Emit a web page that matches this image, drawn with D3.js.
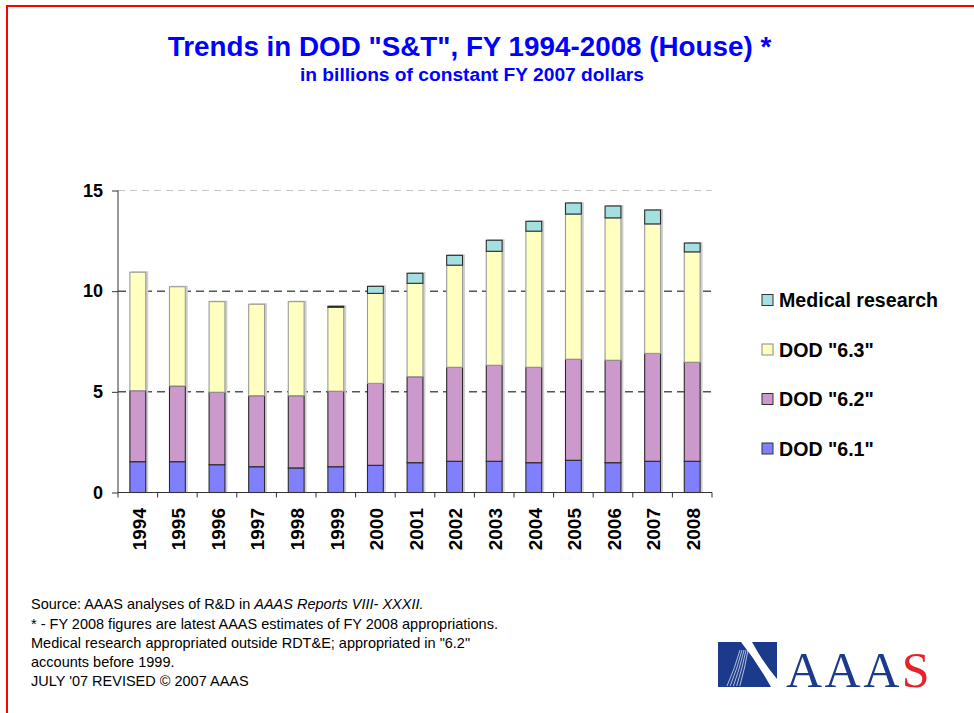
<!DOCTYPE html>
<html>
<head>
<meta charset="utf-8">
<script src="https://cdn.jsdelivr.net/npm/d3@7"></script>
<style>
  html, body { margin: 0; padding: 0; background: #fff; }
  svg { display: block; font-family: "Liberation Sans", Arial, sans-serif; }
</style>
</head>
<body>
<svg id="chart" width="974" height="713"></svg>
<script>
// ---- data ----
const years = ["1994","1995","1996","1997","1998","1999","2000","2001","2002","2003","2004","2005","2006","2007","2008"];
const dod61 = [1.53,1.53,1.38,1.28,1.22,1.28,1.35,1.48,1.55,1.55,1.48,1.60,1.48,1.55,1.55];
const dod62 = [3.53,3.76,3.60,3.53,3.59,3.75,4.07,4.27,4.67,4.77,4.74,5.02,5.09,5.36,4.92];
const dod63 = [5.88,4.93,4.50,4.54,4.67,4.17,4.47,4.64,5.07,5.66,6.76,7.21,7.07,6.43,5.48];
const medical = [0,0,0,0,0,0.05,0.35,0.50,0.49,0.55,0.49,0.55,0.59,0.69,0.44];
const seriesKeys = ["dod61","dod62","dod63","medical"];
const seriesLabels = ['DOD "6.1"','DOD "6.2"','DOD "6.3"','Medical research'];
const yTicks = [0,5,10,15];
const titleText = 'Trends in DOD "S&T", FY 1994-2008 (House) *';
const subtitleText = 'in billions of constant FY 2007 dollars';

// ---- styles ----
const fills = {dod61:"#8080FF", dod62:"#CC99CC", dod63:"#FFFFC0", medical:"#A4E0E0"};
const strokes = {dod61:"#2a2a2a", dod62:"#2a2a2a", dod63:"#9a9a9a", medical:"#2a2a2a"};
const SANS = "'Liberation Sans', Arial, sans-serif";

const svg = d3.select("#chart");

// red frame
svg.append("rect").attr("x",7).attr("y",6).attr("width",1000).attr("height",1000)
  .attr("fill","none").attr("stroke","#FF0000").attr("stroke-width",2);

// titles
svg.append("text").attr("x",469.5).attr("y",56).attr("text-anchor","middle")
  .attr("font-size",27.8).attr("font-weight","bold").attr("fill","#0000FF").text(titleText);
svg.append("text").attr("x",472).attr("y",81).attr("text-anchor","middle")
  .attr("font-size",19.2).attr("font-weight","bold").attr("fill","#0000FF").text(subtitleText);

// scales
const x = d3.scaleBand().domain(years).range([118,712]).paddingInner(0.6).paddingOuter(0.3);
const y = d3.scaleLinear().domain([0,15]).range([492.5,190.5]);

const rows = years.map((yr,i)=>({year:yr, dod61:dod61[i], dod62:dod62[i], dod63:dod63[i], medical:medical[i]}));
const stack = d3.stack().keys(seriesKeys)(rows);

// gridlines
const grid = svg.append("g");
yTicks.filter(t=>t>0).forEach(t=>{
  grid.append("line").attr("x1",118).attr("x2",712).attr("y1",y(t)).attr("y2",y(t))
    .attr("stroke", t===15 ? "#c8c8c8" : "#000").attr("stroke-width",1)
    .attr("stroke-dasharray", t===15 ? "7,5" : "8,5");
});

// shadows
svg.append("g").selectAll("rect").data(rows).join("rect")
  .attr("x", d=>x(d.year)+1.5)
  .attr("y", (d,i)=>y(stack[3][i][1])-1)
  .attr("width", x.bandwidth()+1)
  .attr("height", (d,i)=>y(0)-y(stack[3][i][1])+1)
  .attr("fill","#cfcfcf");

// bars
stack.forEach(s=>{
  svg.append("g").selectAll("rect").data(s.filter(d=>d[1]-d[0]>0)).join("rect")
    .attr("x", d=>x(d.data.year))
    .attr("y", d=>y(d[1]))
    .attr("width", x.bandwidth())
    .attr("height", d=>Math.max(0.8, y(d[0])-y(d[1])))
    .attr("fill", fills[s.key])
    .attr("stroke", strokes[s.key])
    .attr("stroke-width",1.1);
});

// y axis
const yAxis = svg.append("g").attr("transform","translate(118,0)")
  .call(d3.axisLeft(y).tickValues(yTicks).tickSize(6).tickPadding(9).tickFormat(d3.format("d")));
yAxis.select(".domain").attr("stroke","#333").attr("d","M0,"+y(15)+"V"+y(0));
yAxis.selectAll(".tick line").attr("stroke","#333");
yAxis.selectAll("text").attr("font-size",18).attr("font-weight","bold")
  .attr("font-family",SANS).attr("fill","#000");

// x axis line
svg.append("line").attr("x1",118).attr("x2",712).attr("y1",y(0)).attr("y2",y(0)).attr("stroke","#333");
// category boundary ticks
const boundaryX = years.map((yr,i)=>x.range()[0] + i*x.step()).concat([x.range()[1]]);
svg.append("g").selectAll("line").data(boundaryX).join("line")
  .attr("x1",d=>d).attr("x2",d=>d).attr("y1",y(0)).attr("y2",y(0)+5).attr("stroke","#333");

// x labels
svg.append("g").selectAll("text").data(years).join("text")
  .attr("transform", d=>`translate(${x(d)+x.bandwidth()/2+1},508) rotate(-90)`)
  .attr("text-anchor","end").attr("dy","0.36em")
  .attr("font-size",19).attr("font-weight","bold").attr("fill","#000")
  .text(d=>d);

// legend
const legendOrder = [3,2,1,0];
const legend = svg.append("g");
legendOrder.forEach((si,j)=>{
  const cy = 300 + j*49.5;
  legend.append("rect").attr("x",762).attr("y",cy-5.5).attr("width",11).attr("height",11)
    .attr("fill",fills[seriesKeys[si]]).attr("stroke", si===2 ? "#8a8a8a" : "#333").attr("stroke-width",1);
  legend.append("text").attr("x",779).attr("y",cy).attr("dy","0.36em")
    .attr("font-size",19.6).attr("font-weight","bold").attr("fill","#000").text(seriesLabels[si]);
});

// footnotes
const notes = svg.append("g").attr("font-size",14.5).attr("fill","#000");
const n1 = notes.append("text").attr("x",31).attr("y",609);
n1.append("tspan").text("Source: AAAS analyses of R&D in ");
n1.append("tspan").attr("font-style","italic").text("AAAS Reports VIII- XXXII.");
const otherNotes = [
  "* - FY 2008 figures are latest AAAS estimates of FY 2008 appropriations.",
  'Medical research appropriated outside RDT&E; appropriated in "6.2"',
  "accounts before 1999.",
  "JULY '07 REVISED \u00A9 2007 AAAS"
];
otherNotes.forEach((t,i)=>{
  notes.append("text").attr("x",31).attr("y",628.5+i*19.3).text(t);
});

// AAAS logo
const logo = svg.append("g");
logo.append("rect").attr("x",718).attr("y",642).attr("width",59).attr("height",45).attr("fill","#1B3A8C");
logo.append("path").attr("d","M741,642 L752,642 Q764,664 777,679 L777,687 L771,687 Q757,662 741,642 Z").attr("fill","#fff");
for (let i=0;i<5;i++){
  logo.append("path").attr("d",`M${727+i*3.2},686 Q${735+i*2.5},668 ${740+i*2},650`)
    .attr("fill","none").attr("stroke","#fff").attr("stroke-width",0.8).attr("opacity",0.85);
}
const lt = logo.append("text").attr("x",786).attr("y",687)
  .style("font-family","'Liberation Serif', 'Times New Roman', serif").attr("font-size",50)
  .attr("letter-spacing",2.5);
lt.append("tspan").attr("fill","#1B3A8C").text("AAA");
lt.append("tspan").attr("fill","#E3222B").text("S");
</script>
</body>
</html>
